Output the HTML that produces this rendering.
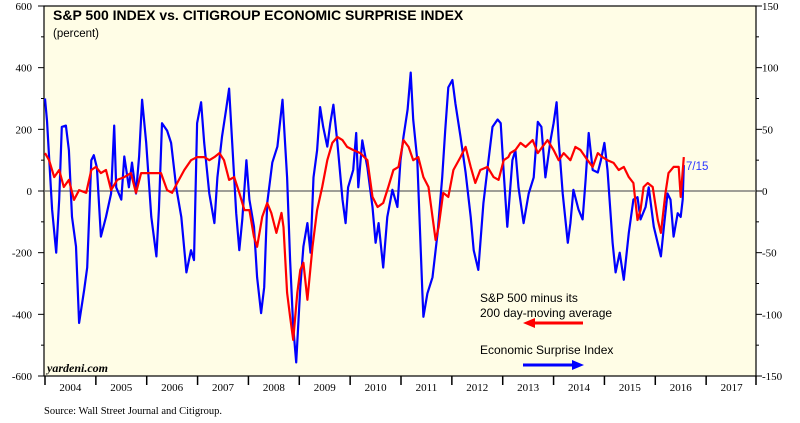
<!DOCTYPE html>
<html><head><meta charset="utf-8"><style>
body{margin:0;background:#fff;width:800px;height:423px;overflow:hidden}
svg{display:block}
</style></head><body>
<svg id="chart" width="800" height="423" xmlns="http://www.w3.org/2000/svg">
<rect x="44" y="6" width="712" height="370" fill="#fffde6" stroke="#000" stroke-width="1.2"/>
<g id="axes"></g>
<line x1="44" x2="756" y1="191" y2="191" stroke="#666" stroke-width="1.2"/>
<g id="series"></g>
<text x="53" y="20" font-family="Liberation Sans, sans-serif" font-weight="bold" font-size="14">S&amp;P 500 INDEX vs. CITIGROUP ECONOMIC SURPRISE INDEX</text>
<text x="53" y="37" font-family="Liberation Sans, sans-serif" font-size="11.5">(percent)</text>
<text x="686" y="170" fill="#2b35ff" font-family="Liberation Sans, sans-serif" font-size="11.5">7/15</text>
<text x="480" y="302" font-family="Liberation Sans, sans-serif" font-size="12">S&amp;P 500 minus its</text>
<text x="480" y="317" font-family="Liberation Sans, sans-serif" font-size="12">200 day-moving average</text>
<g><line x1="532" x2="583" y1="323" y2="323" stroke="#f00" stroke-width="3"/><polygon points="523,323 535,318 535,328" fill="#f00"/></g>
<text x="480" y="354" font-family="Liberation Sans, sans-serif" font-size="12">Economic Surprise Index</text>
<g><line x1="523" x2="574" y1="365" y2="365" stroke="#00f" stroke-width="3"/><polygon points="584,365 572,360 572,370" fill="#00f"/></g>
<text x="47" y="372" font-family="Liberation Serif, serif" font-weight="bold" font-style="italic" font-size="12">yardeni.com</text>
<text x="44" y="414" font-family="Liberation Serif, serif" font-size="10.5">Source: Wall Street Journal and Citigroup.</text>
</svg>
<script>
const leftTicks=[600,400,200,0,-200,-400,-600];
const rightTicks=[150,100,50,0,-50,-100,-150];
const years=[2004,2005,2006,2007,2008,2009,2010,2011,2012,2013,2014,2015,2016,2017];
const blueDates=[2004.00,2004.04,2004.14,2004.22,2004.28,2004.33,2004.41,2004.47,2004.53,2004.61,2004.67,2004.77,2004.83,2004.91,2004.96,2005.02,2005.10,2005.20,2005.30,2005.36,2005.40,2005.50,2005.56,2005.65,2005.71,2005.79,2005.85,2005.91,2005.99,2006.09,2006.19,2006.24,2006.30,2006.40,2006.48,2006.58,2006.68,2006.78,2006.87,2006.93,2006.99,2007.07,2007.13,2007.23,2007.33,2007.39,2007.48,2007.56,2007.62,2007.68,2007.76,2007.82,2007.88,2007.96,2008.02,2008.11,2008.17,2008.25,2008.31,2008.37,2008.47,2008.57,2008.67,2008.76,2008.82,2008.88,2008.94,2009.02,2009.08,2009.16,2009.22,2009.28,2009.35,2009.41,2009.47,2009.55,2009.61,2009.67,2009.75,2009.85,2009.91,2009.96,2010.06,2010.12,2010.16,2010.24,2010.34,2010.44,2010.50,2010.56,2010.65,2010.73,2010.83,2010.93,2010.99,2011.05,2011.13,2011.19,2011.24,2011.32,2011.42,2011.44,2011.52,2011.62,2011.72,2011.81,2011.87,2011.93,2012.01,2012.07,2012.17,2012.27,2012.37,2012.43,2012.52,2012.62,2012.72,2012.80,2012.90,2012.96,2013.02,2013.09,2013.19,2013.25,2013.31,2013.41,2013.51,2013.61,2013.69,2013.76,2013.84,2013.94,2014.00,2014.06,2014.10,2014.18,2014.28,2014.33,2014.39,2014.49,2014.57,2014.63,2014.69,2014.77,2014.87,2014.93,2015.00,2015.06,2015.16,2015.22,2015.30,2015.38,2015.48,2015.57,2015.65,2015.71,2015.81,2015.87,2015.97,2016.11,2016.17,2016.24,2016.30,2016.36,2016.44,2016.50,2016.54,2016.56];
const blueValues=[75,57,-15,-50,-7,52,53,33,-21,-45,-107,-80,-62,25,29,19,-37,-21,-2,53,3,-7,28,3,23,-2,28,74,39,-21,-53,-15,55,49,39,3,-21,-66,-48,-56,55,72,39,-2,-26,11,44,66,83,39,-18,-48,-23,25,-7,-29,-70,-99,-78,-10,23,36,74,11,-56,-110,-139,-78,-45,-26,-50,11,33,68,52,36,55,70,39,-7,-26,3,17,47,3,41,19,-13,-42,-26,-62,-21,1,-13,25,44,66,96,58,25,-83,-102,-83,-70,-34,11,49,84,90,71,44,15,-21,-48,-64,-10,25,52,58,55,15,-29,25,33,3,-26,-2,11,56,52,11,41,55,72,41,-2,-42,-26,1,-15,-23,9,47,17,15,25,39,17,-42,-66,-50,-72,-34,-7,-5,-23,-13,3,-29,-53,-29,-2,-7,-37,-18,-21,-7,21];
const redDates=[2004.00,2004.08,2004.18,2004.28,2004.37,2004.47,2004.57,2004.67,2004.81,2004.91,2005.00,2005.10,2005.20,2005.30,2005.42,2005.56,2005.69,2005.79,2005.89,2006.01,2006.15,2006.28,2006.40,2006.50,2006.60,2006.74,2006.87,2006.99,2007.13,2007.23,2007.33,2007.43,2007.52,2007.62,2007.72,2007.82,2007.92,2008.02,2008.11,2008.17,2008.27,2008.37,2008.45,2008.55,2008.65,2008.69,2008.76,2008.82,2008.88,2008.96,2009.02,2009.08,2009.16,2009.26,2009.35,2009.45,2009.55,2009.65,2009.75,2009.85,2009.94,2010.06,2010.20,2010.34,2010.44,2010.54,2010.65,2010.75,2010.85,2010.95,2011.05,2011.15,2011.24,2011.34,2011.44,2011.54,2011.62,2011.68,2011.74,2011.83,2011.93,2012.03,2012.17,2012.27,2012.37,2012.46,2012.56,2012.70,2012.82,2012.92,2013.02,2013.11,2013.15,2013.25,2013.35,2013.45,2013.59,2013.69,2013.78,2013.88,2014.00,2014.10,2014.20,2014.33,2014.43,2014.53,2014.67,2014.77,2014.87,2014.96,2015.06,2015.18,2015.28,2015.38,2015.48,2015.57,2015.65,2015.71,2015.77,2015.85,2015.95,2016.05,2016.11,2016.20,2016.26,2016.36,2016.46,2016.50,2016.56];
const redValues=[123,100,45,68,13,36,-29,3,-6,68,78,58,68,3,36,45,58,-6,58,58,58,58,3,-6,26,68,100,110,110,100,110,123,100,36,45,-6,-62,-62,-149,-181,-84,-39,-71,-136,-71,-117,-330,-408,-483,-330,-256,-233,-353,-181,-62,13,100,156,175,165,143,133,123,100,-19,-52,-39,13,68,78,165,143,100,110,45,13,-84,-159,-117,-6,-19,68,110,143,78,26,68,78,45,36,100,110,123,133,156,143,165,123,143,165,133,100,123,100,143,133,100,78,123,110,100,91,68,78,45,26,-94,-62,13,26,13,-94,-136,-6,58,78,78,-19,110];

const X0=44,X1=756,Y0=6,Y1=376,yearW=(X1-X0)/14;
const xs=d=>X0+1+(d-2004)*yearW;
const yL=v=>191-v*(Y1-Y0)/1200;
const yR=v=>191-v*(Y1-Y0)/300;
const NS='http://www.w3.org/2000/svg';
const axes=document.getElementById('axes'),series=document.getElementById('series');
function mk(tag,attrs,parent){const e=document.createElementNS(NS,tag);for(const k in attrs)e.setAttribute(k,attrs[k]);parent.appendChild(e);return e;}
leftTicks.forEach(v=>{
  const y=yL(v);
  const t=mk('text',{x:32,y:y+4,'text-anchor':'end','font-family':'Liberation Serif, serif','font-size':11},axes);
  t.textContent=v;
  
  
  mk('line',{x1:38,x2:44,y1:y,y2:y,stroke:'#000'},axes);
  if(v>-600) mk('line',{x1:41,x2:44,y1:yL(v-100),y2:yL(v-100),stroke:'#000'},axes);
});
rightTicks.forEach(v=>{
  const y=yR(v);
  const t=mk('text',{x:762,y:y+4,'font-family':'Liberation Serif, serif','font-size':11},axes);
  t.textContent=v;
  
  
  mk('line',{x1:756,x2:762,y1:y,y2:y,stroke:'#000'},axes);
  if(v>-150) mk('line',{x1:756,x2:759,y1:yR(v-25),y2:yR(v-25),stroke:'#000'},axes);
});
years.forEach((yr,i)=>{
  const x=X0+1+i*yearW;
  mk('line',{x1:x,x2:x,y1:376,y2:385,stroke:'#000','stroke-width':1.5},axes);
  const t=mk('text',{x:x+yearW/2,y:391,'text-anchor':'middle','font-family':'Liberation Serif, serif','font-size':11},axes);
  t.textContent=yr;
  
  
});
mk('line',{x1:X1,x2:X1,y1:376,y2:385,stroke:'#000','stroke-width':1.5},axes);
const blue=mk('polyline',{points:blueDates.map((d,i)=>xs(d).toFixed(1)+','+yR(blueValues[i]).toFixed(1)).join(' '),fill:'none',stroke:'#0000ff','stroke-width':2.2,'stroke-linejoin':'round'},series);


const red=mk('polyline',{points:redDates.map((d,i)=>xs(d).toFixed(1)+','+yL(redValues[i]).toFixed(1)).join(' '),fill:'none',stroke:'#ff0000','stroke-width':2.2,'stroke-linejoin':'round'},series);


</script>
</body></html>
